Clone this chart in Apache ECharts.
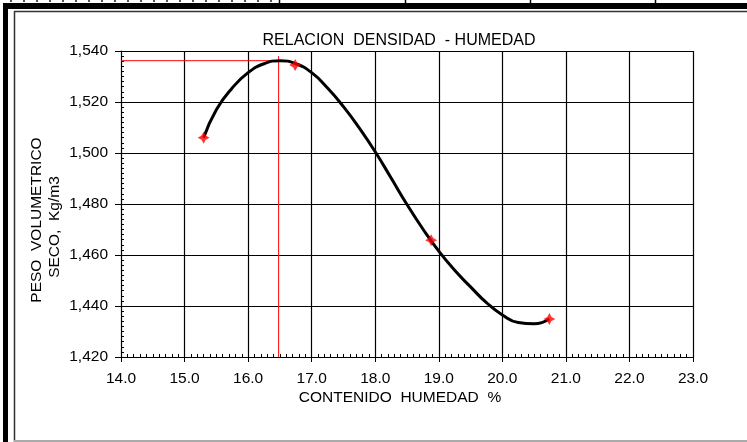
<!DOCTYPE html>
<html>
<head>
<meta charset="utf-8">
<script src="https://cdn.jsdelivr.net/npm/echarts@6/dist/echarts.min.js"></script>
<style>
  html, body { margin: 0; padding: 0; background: #fff; }
  #chart { width: 747px; height: 442px; }
</style>
</head>
<body>
<div id="chart"></div>
<script>
// puntos del ensayo (contenido de humedad %, peso volumetrico seco)
const humedad = [15.30, 16.74, 18.88, 20.74];
const densidad = [1506.0, 1534.5, 1465.8, 1434.9];

// curva de ajuste
const curvaX = [15.30, 15.5, 15.75, 16.0, 16.25, 16.5, 16.75, 17.0, 17.25, 17.5, 17.75, 18.0,
                18.25, 18.5, 18.75, 19.0, 19.25, 19.5, 19.75, 20.0, 20.25, 20.5, 20.74];
const curvaY = [1506.0, 1517.0, 1525.5, 1531.5, 1535.0, 1536.2, 1535.0, 1531.5, 1525.5, 1518.2, 1509.8, 1500.5,
                1490.2, 1479.8, 1470.2, 1461.5, 1454.0, 1447.5, 1441.3, 1436.5, 1433.5, 1433.0, 1434.9];

// densidad maxima / humedad optima
const humedadOptima = 16.48;
const densidadMax = 1536.2;

const xTicks = { min: 14, max: 23, interval: 1 };
const yTicks = { min: 1420, max: 1540, interval: 20 };

const FONT = 'Liberation Sans';

const chart = echarts.init(document.getElementById('chart'));

const zip = (a, b) => a.map((v, i) => [v, b[i]]);

const fmtMiles = v => {
  const s = String(Math.round(v));
  return s.length > 3 ? s.slice(0, s.length - 3) + ',' + s.slice(-3) : s;
};

const option = {
  animation: false,
  backgroundColor: '#fff',
  grid: { left: 121, right: 54, top: 51, bottom: 85 },
  xAxis: [{
    type: 'value',
    position: 'bottom',
    min: xTicks.min,
    max: xTicks.max,
    interval: xTicks.interval,
    axisLine: { lineStyle: { color: '#000', width: 1 } },
    axisTick: { show: true, inside: false, length: 5, lineStyle: { color: '#000' } },
    axisLabel: {
      color: '#000', fontFamily: FONT, fontSize: 15.5, margin: 14,
      formatter: v => v.toFixed(1)
    },
    splitLine: { show: true, lineStyle: { color: '#000', width: 1.2 } }
  }, {
    // solo marcas menores hacia adentro
    type: 'value',
    position: 'bottom',
    min: xTicks.min,
    max: xTicks.max,
    interval: xTicks.interval,
    axisLine: { show: false },
    axisTick: { show: false, inside: true },
    minorTick: { show: true, splitNumber: 10, length: 3, lineStyle: { color: '#000' } },
    axisLabel: { show: false },
    splitLine: { show: false }
  }],
  yAxis: [{
    type: 'value',
    position: 'left',
    min: yTicks.min,
    max: yTicks.max,
    interval: yTicks.interval,
    axisLine: { show: true, lineStyle: { color: '#000', width: 1 } },
    axisTick: { show: true, inside: false, length: 6, lineStyle: { color: '#000' } },
    axisLabel: {
      color: '#000', fontFamily: FONT, fontSize: 15.5, margin: 13,
      formatter: fmtMiles
    },
    splitLine: { show: true, lineStyle: { color: '#000', width: 1.2 } }
  }, {
    type: 'value',
    position: 'left',
    min: yTicks.min,
    max: yTicks.max,
    interval: yTicks.interval,
    axisLine: { show: false },
    axisTick: { show: false, inside: true },
    minorTick: { show: true, splitNumber: 10, length: 3, lineStyle: { color: '#000' } },
    axisLabel: { show: false },
    splitLine: { show: false }
  }],
  series: [{
    // lineas rojas de la densidad maxima
    name: 'max',
    type: 'line',
    symbol: 'none',
    silent: true,
    lineStyle: { color: '#ff0000', width: 1 },
    data: [[xTicks.min, densidadMax], [humedadOptima, densidadMax]],
    z: 2
  }, {
    name: 'optima',
    type: 'line',
    symbol: 'none',
    silent: true,
    lineStyle: { color: '#ff0000', width: 1 },
    data: [[humedadOptima, densidadMax + 1.8], [humedadOptima, yTicks.min]],
    z: 2
  }, {
    name: 'curva',
    type: 'line',
    smooth: 0.5,
    symbol: 'none',
    lineStyle: { color: '#000', width: 3 },
    data: zip(curvaX, curvaY),
    z: 3
  }, {
    name: 'ensayo',
    type: 'scatter',
    symbol: 'path://M0,-10 L3.5,-3.5 L10,0 L3.5,3.5 L0,10 L-3.5,3.5 L-10,0 L-3.5,-3.5 Z',
    symbolSize: 12,
    itemStyle: { color: '#ff0000' },
    data: zip(humedad, densidad),
    z: 4
  }],
  graphic: [
    // marco de la hoja
    { type: 'rect', shape: { x: 3, y: 3, width: 744, height: 6 }, style: { fill: '#000' } },
    { type: 'rect', shape: { x: 3, y: 3, width: 5, height: 439 }, style: { fill: '#000' } },
    { type: 'line', shape: { x1: 14, y1: 11.5, x2: 747, y2: 11.5 }, style: { stroke: '#333', lineWidth: 1.5 } },
    { type: 'line', shape: { x1: 14.5, y1: 11, x2: 14.5, y2: 442 }, style: { stroke: '#333', lineWidth: 1.5 } },
    { type: 'line', shape: { x1: 14, y1: 441, x2: 747, y2: 441 }, style: { stroke: '#aaa', lineWidth: 2 } },
    { type: 'line', shape: { x1: 10, y1: 1, x2: 272, y2: 1 }, style: { stroke: '#555', lineWidth: 2, lineDash: [2, 11] } },
    { type: 'line', shape: { x1: 279.5, y1: 0, x2: 279.5, y2: 4 }, style: { stroke: '#000', lineWidth: 1.5 } },
    { type: 'line', shape: { x1: 405.5, y1: 0, x2: 405.5, y2: 4 }, style: { stroke: '#000', lineWidth: 1.5 } },
    { type: 'line', shape: { x1: 530.5, y1: 0, x2: 530.5, y2: 4 }, style: { stroke: '#000', lineWidth: 1.5 } },
    { type: 'line', shape: { x1: 655.5, y1: 0, x2: 655.5, y2: 4 }, style: { stroke: '#000', lineWidth: 1.5 } },
    // titulo y nombres de ejes
    {
      type: 'text', x: 399, y: 41,
      style: { text: 'RELACION  DENSIDAD  - HUMEDAD', font: '16px "Liberation Sans"', fill: '#000', align: 'center', verticalAlign: 'middle' }
    },
    {
      type: 'text', x: 400, y: 398,
      style: { text: 'CONTENIDO  HUMEDAD  %', font: '15.5px "Liberation Sans"', fill: '#000', align: 'center', verticalAlign: 'middle' }
    },
    {
      type: 'text', x: 37, y: 220, rotation: Math.PI / 2,
      style: { text: 'PESO  VOLUMETRICO', font: '15.5px "Liberation Sans"', fill: '#000', align: 'center', verticalAlign: 'middle' }
    },
    {
      type: 'text', x: 55, y: 227, rotation: Math.PI / 2,
      style: { text: 'SECO,  Kg/m3', font: '15.5px "Liberation Sans"', fill: '#000', align: 'center', verticalAlign: 'middle' }
    }
  ]
};

chart.setOption(option);
</script>
</body>
</html>
